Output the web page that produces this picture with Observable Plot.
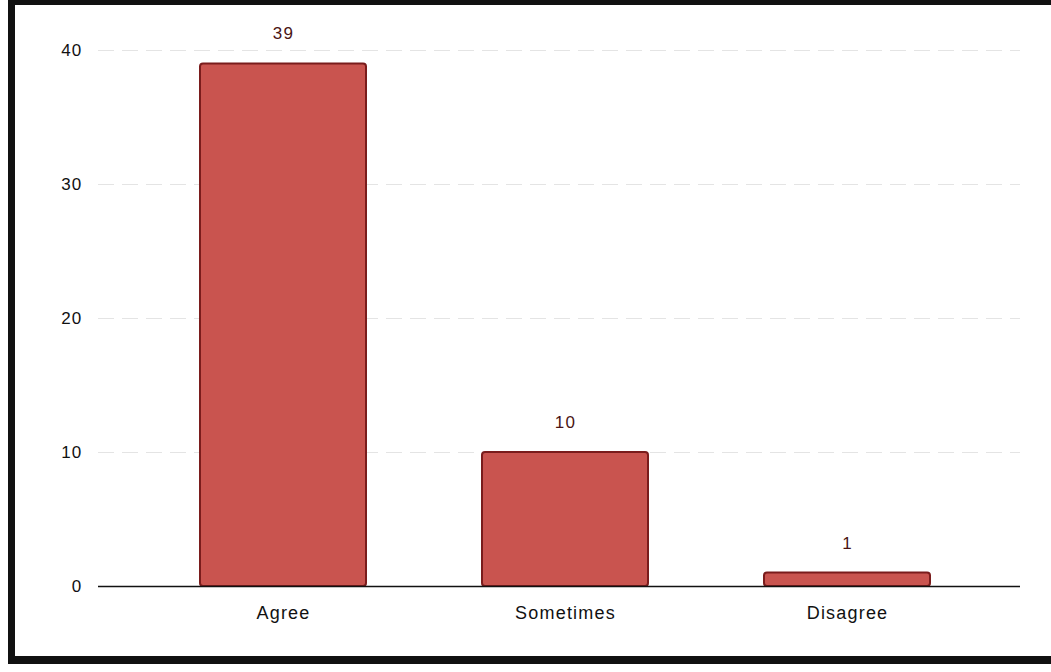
<!DOCTYPE html>
<html>
<head>
<meta charset="utf-8">
<script src="https://cdn.jsdelivr.net/npm/d3@7"></script>
<script src="https://cdn.jsdelivr.net/npm/@observablehq/plot@0.6"></script>
<style>
  html, body { margin: 0; padding: 0; background: #fff; width: 1051px; height: 672px; overflow: hidden; }
  #chart { position: absolute; left: 0; top: 0; }
  #chart svg text { letter-spacing: 1.2px; }
  #frame { position: absolute; left: 8px; top: 0px; width: 1060px; height: 664px;
           border-left: 7px solid #111; border-top: 5px solid #111; border-bottom: 8px solid #111;
           pointer-events: none; box-sizing: border-box; }
</style>
</head>
<body>
<div id="chart"></div>
<div id="frame"></div>
<script>
const categories = ["Agree", "Sometimes", "Disagree"];
const counts = [39, 10, 1];
const yTicks = [0, 10, 20, 30, 40];

const data = categories.map((c, i) => ({category: c, count: counts[i]}));

const chart = Plot.plot({
  width: 1051,
  height: 672,
  marginTop: 50,
  marginBottom: 86,
  marginLeft: 98,
  marginRight: 31,
  style: {fontFamily: "'Liberation Sans', Arial, sans-serif", fontSize: "17px", color: "#111", background: "#fff"},
  x: {domain: categories, insetLeft: 44, insetRight: 31, paddingInner: 0.41, paddingOuter: 0.205, label: null},
  y: {domain: [0, 40], label: null},
  marks: [
    Plot.ruleY(yTicks.filter(d => d > 0), {stroke: "#e4e4e4", strokeWidth: 1, strokeDasharray: "16,8"}),
    Plot.barY(data, {x: "category", y: "count", fill: "#c9544f", stroke: "#7a1c1c", strokeWidth: 2, rx: 3}),
    Plot.ruleY([0], {stroke: "#111", strokeWidth: 1.5}),
    Plot.text(data, {x: "category", y: "count", text: d => String(d.count), dy: -30, fill: "#4a1414", fontSize: 17}),
    Plot.axisY({ticks: yTicks, tickSize: 0, tickPadding: 16, fontSize: 17, label: null}),
    Plot.axisX({tickSize: 0, tickPadding: 20, fontSize: 18, label: null})
  ]
});
document.getElementById("chart").appendChild(chart);
</script>
</body>
</html>
